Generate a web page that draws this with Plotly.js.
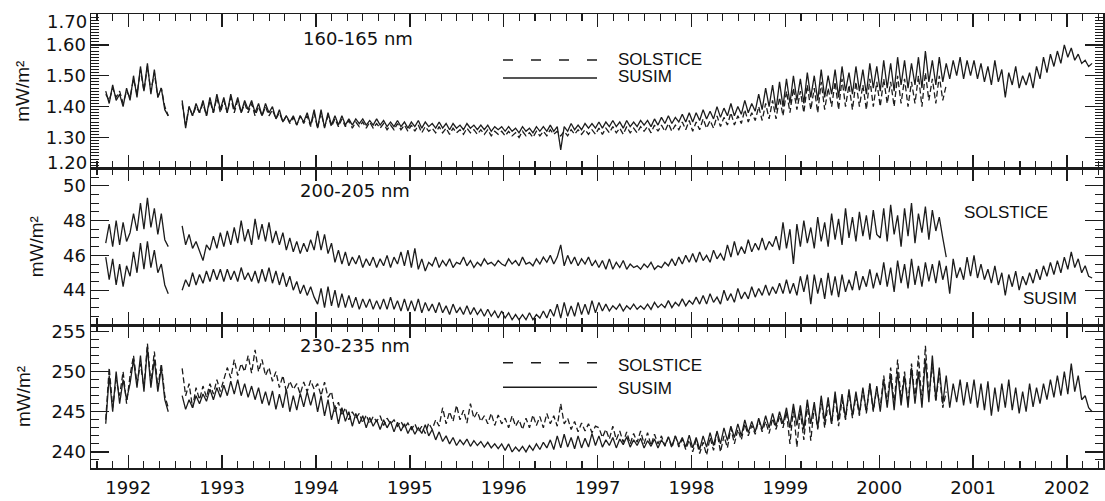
<!DOCTYPE html>
<html>
<head>
<meta charset="utf-8">
<script src="https://cdn.plot.ly/plotly-3.0.1.min.js"></script>
<style>html,body{margin:0;padding:0;background:#fff;}#chart{width:1105px;height:501px;}</style>
</head>
<body>
<div id="chart"></div>
<script>
// Time grid: samples every ~half solar rotation (0.037 yr) starting late 1991
const T0 = 1991.76;
const STEP = 0.037;

// Tick labels
const yearTicks = [1992, 1993, 1994, 1995, 1996, 1997, 1998, 1999, 2000, 2001, 2002];
const p1Ticks = [1.30, 1.40, 1.50, 1.60];
const p1EdgeTicks = [1.70, 1.20];
const p2Ticks = [44, 46, 48, 50];
const p3Ticks = [240, 245, 250, 255];
const panelLabels = ['160-165 nm', '200-205 nm', '230-235 nm'];
const seriesNames = ['SOLSTICE', 'SUSIM'];

// 160-165 nm (mW/m^2)
const p1su = [1.45,1.41,1.47,1.42,1.44,1.40,1.46,
1.42,1.50,1.43,1.53,1.45,1.54,1.44,1.52,1.43,1.46,1.39,1.37,
null,null,null,
1.42,1.33,1.40,1.37,1.41,1.38,1.42,1.37,1.43,1.38,1.44,1.39,
1.43,1.38,1.44,1.39,1.43,1.38,1.42,1.39,1.42,1.38,1.41,1.37,1.41,1.38,1.40,1.36,1.39,1.35,1.37,1.35,1.37,1.34,1.37,1.35,1.38,1.34,1.39,
1.33,1.39,1.33,1.38,1.34,1.37,1.34,1.37,1.34,1.36,1.34,1.36,1.345,1.36,1.34,1.355,1.34,1.36,1.34,1.355,1.335,1.35,1.335,1.355,1.335,1.35,1.33,
1.35,1.335,1.355,1.33,1.35,1.335,1.345,1.33,1.35,1.33,1.345,1.325,1.345,1.33,1.34,1.325,1.345,1.33,1.34,1.325,1.34,1.325,1.34,1.32,1.335,1.325,1.335,
1.32,1.335,1.32,1.33,1.315,1.335,1.32,1.33,1.315,1.335,1.32,1.335,1.32,1.34,1.32,1.335,1.26,1.335,1.32,1.345,1.325,1.34,1.325,1.345,1.33,1.345,1.33,
1.35,1.33,1.35,1.335,1.355,1.335,1.35,1.33,1.355,1.335,1.35,1.335,1.355,1.34,1.355,1.335,1.36,1.34,1.365,1.345,1.37,1.345,1.365,1.35,1.375,1.35,1.38,
1.35,1.38,1.355,1.39,1.36,1.385,1.36,1.40,1.365,1.395,1.37,1.41,1.37,1.40,1.375,1.42,1.38,1.41,1.385,1.44,1.39,1.46,1.40,1.47,1.39,1.48,1.40,
1.49,1.41,1.50,1.42,1.49,1.41,1.51,1.43,1.50,1.42,1.52,1.43,1.50,1.44,1.52,1.43,1.53,1.45,1.51,1.44,1.53,1.45,1.52,1.44,1.54,1.46,1.53,
1.45,1.55,1.46,1.54,1.45,1.56,1.47,1.55,1.46,1.54,1.47,1.56,1.46,1.58,1.48,1.55,1.47,1.56,1.48,1.54,1.49,1.55,1.50,1.56,1.49,1.55,1.50,
1.55,1.49,1.54,1.48,1.53,1.47,1.55,1.48,1.52,1.43,1.51,1.47,1.53,1.46,1.50,1.47,1.51,1.46,1.53,1.49,1.56,1.51,1.57,1.53,1.58,1.54,1.60,
1.56,1.59,1.55,1.57,1.54,1.55,1.53,1.54];

const p1so = [1.44,1.42,1.46,1.43,1.45,1.41,1.45,
1.43,1.49,1.44,1.52,1.45,1.53,1.45,1.51,1.43,1.46,1.40,1.37,
null,null,null,
1.41,1.34,1.40,1.37,1.40,1.38,1.41,1.37,1.42,1.38,1.43,1.38,
1.42,1.38,1.43,1.38,1.42,1.38,1.41,1.38,1.41,1.37,1.40,1.37,1.40,1.37,1.39,1.36,1.38,1.35,1.37,1.345,1.365,1.34,1.37,1.345,1.37,1.335,1.38,
1.33,1.38,1.335,1.37,1.335,1.36,1.335,1.36,1.335,1.355,1.33,1.35,1.335,1.35,1.33,1.35,1.33,1.345,1.33,1.345,1.325,1.34,1.325,1.345,1.325,1.34,1.32,
1.34,1.32,1.34,1.315,1.335,1.32,1.33,1.315,1.335,1.315,1.33,1.31,1.33,1.315,1.325,1.31,1.33,1.315,1.325,1.31,1.325,1.31,1.325,1.305,1.32,1.31,1.32,
1.305,1.32,1.305,1.315,1.30,1.32,1.305,1.315,1.30,1.32,1.305,1.32,1.305,1.325,1.31,1.32,1.305,1.32,1.305,1.325,1.31,1.325,1.31,1.325,1.31,1.325,1.31,
1.33,1.31,1.33,1.315,1.335,1.315,1.33,1.31,1.335,1.315,1.33,1.315,1.335,1.32,1.335,1.315,1.34,1.32,1.34,1.32,1.345,1.32,1.34,1.325,1.35,1.325,1.355,
1.32,1.35,1.325,1.36,1.33,1.355,1.33,1.37,1.335,1.365,1.34,1.38,1.34,1.37,1.345,1.39,1.35,1.38,1.355,1.40,1.355,1.41,1.36,1.42,1.36,1.43,1.37,
1.45,1.38,1.46,1.39,1.45,1.38,1.47,1.39,1.46,1.38,1.48,1.39,1.46,1.40,1.48,1.39,1.49,1.40,1.47,1.39,1.48,1.40,1.47,1.39,1.49,1.40,1.48,
1.40,1.49,1.41,1.48,1.40,1.50,1.41,1.49,1.40,1.48,1.41,1.50,1.40,1.51,1.42,1.49,1.41,1.50,1.42,1.47];

// 200-205 nm (mW/m^2)
const p2su = [45.9,44.6,45.8,44.3,45.5,44.2,45.4,
44.8,46.2,45.0,46.7,45.2,46.8,45.3,46.3,45.0,45.5,44.3,43.8,
null,null,null,
44.0,44.6,44.2,45.0,44.3,44.9,44.4,45.1,44.5,45.2,44.6,45.2,
44.5,45.2,44.6,45.1,44.5,45.3,44.6,45.0,44.5,45.1,44.4,45.2,44.5,45.3,44.4,45.1,44.3,45.0,44.2,44.8,44.0,44.5,43.8,44.3,43.7,44.2,43.6,
43.2,44.1,43.0,44.2,43.1,44.0,43.0,43.8,43.0,43.7,43.0,43.6,42.9,43.5,43.0,43.5,42.9,43.4,42.9,43.5,42.9,43.6,42.9,43.4,42.8,43.5,42.8,
43.4,42.8,43.5,42.7,43.3,42.8,43.2,42.7,43.3,42.7,43.1,42.6,43.2,42.7,43.0,42.6,43.1,42.6,43.0,42.6,42.9,42.5,42.9,42.5,42.8,42.4,42.8,
42.4,42.7,42.3,42.6,42.3,42.6,42.3,42.7,42.3,42.6,42.4,42.8,42.4,42.9,42.5,43.2,42.4,43.3,42.5,43.1,42.5,43.3,42.6,43.2,42.6,43.4,42.7,
43.3,42.8,43.2,42.8,43.1,42.9,43.2,42.8,43.1,42.9,43.2,42.9,43.1,42.9,43.2,42.9,43.3,43.0,43.2,43.0,43.4,43.0,43.3,43.1,43.5,43.1,43.4,
43.2,43.6,43.2,43.7,43.2,43.8,43.3,43.6,43.2,44.0,43.4,43.8,43.3,44.1,43.5,43.9,43.5,44.2,43.6,44.1,43.7,44.3,43.7,44.2,43.8,44.4,43.8,
44.6,43.8,44.4,43.7,44.8,43.9,44.9,43.2,44.9,43.8,44.7,43.5,45.0,43.7,44.8,43.6,44.9,43.9,44.6,44.0,45.1,44.0,44.8,44.2,45.2,44.1,45.0,
44.3,45.6,44.2,45.3,43.9,45.7,44.4,45.5,44.1,45.8,44.3,45.4,44.2,45.6,44.5,45.5,44.4,45.7,44.6,45.4,43.8,45.8,44.7,45.3,44.6,45.9,44.8,
46.0,44.7,45.5,44.6,45.2,44.4,45.4,44.3,45.0,43.7,44.9,44.2,45.1,44.0,44.8,44.3,45.0,44.4,45.2,44.6,45.4,44.8,45.6,44.9,45.7,45.0,45.9,
45.2,46.2,45.3,45.8,45.0,45.4,44.8,44.7];

const p2so = [46.7,47.8,46.5,48.0,46.6,47.9,46.8,
47.3,48.4,47.4,49.0,47.5,49.3,47.6,48.7,47.2,48.4,46.9,46.5,
null,null,null,
47.7,46.6,47.2,46.4,46.8,46.2,45.7,46.6,46.3,47.1,46.4,47.3,
46.5,47.4,46.6,47.6,46.7,48.0,46.8,47.5,46.6,48.1,46.9,47.8,46.8,47.9,46.7,47.4,46.6,47.3,46.3,47.0,46.2,46.8,46.1,46.7,46.2,46.9,46.3,
47.4,46.3,47.2,46.1,46.7,45.6,46.3,45.5,46.2,45.4,45.9,45.5,46.0,45.3,45.8,45.4,45.9,45.3,45.8,45.4,46.0,45.3,45.9,45.5,46.2,45.4,46.3,
45.3,46.4,45.2,45.8,45.1,45.6,45.4,45.9,45.3,45.7,45.4,45.8,45.3,45.6,45.5,45.9,45.4,45.7,45.3,45.6,45.4,45.8,45.5,45.6,45.4,45.7,45.5,
45.4,45.8,45.5,45.7,45.4,45.9,45.5,45.6,45.4,45.8,45.5,45.9,45.6,46.0,45.5,45.9,46.6,45.4,46.0,45.5,45.9,45.4,45.8,45.5,45.9,45.4,45.7,
45.3,45.7,45.2,45.8,45.2,45.6,45.3,45.7,45.2,45.5,45.3,45.4,45.2,45.5,45.3,45.6,45.2,45.4,45.3,45.6,45.4,45.8,45.4,45.9,45.5,46.0,45.6,
46.1,45.6,46.2,45.7,46.0,45.6,46.3,45.8,46.1,45.7,46.6,45.9,46.8,46.0,46.5,46.1,46.9,46.2,46.7,46.3,47.0,46.3,46.8,46.5,47.1,46.3,47.9,
46.4,47.5,45.5,47.8,46.5,48.0,46.7,47.6,46.4,48.2,46.8,47.9,46.5,48.4,46.9,48.1,46.6,48.7,47.0,48.2,46.8,48.5,47.1,48.3,46.9,48.6,47.2,
47.0,48.7,46.8,48.9,47.2,48.3,46.5,48.7,47.1,49.0,46.7,48.4,47.3,48.8,46.9,48.6,47.4,48.2,47.0,45.9];

// 230-235 nm (mW/m^2)
const p3su = [243.5,249.5,245.0,250.0,246.0,249.0,246.5,
248.5,251.5,248.0,252.0,247.5,253.0,248.0,251.5,247.5,250.5,246.5,245.0,
null,null,null,
247.0,245.3,246.5,245.5,247.0,246.0,247.2,246.3,247.8,246.5,248.0,246.8,
248.3,247.0,248.8,247.2,249.0,247.0,248.5,246.8,248.2,246.5,248.0,246.0,247.5,245.8,247.6,245.3,247.2,245.5,247.8,245.0,247.0,245.2,247.3,245.6,247.5,245.8,247.4,
245.0,247.0,244.5,246.5,244.0,245.8,243.5,245.5,243.8,245.0,243.2,244.8,243.5,244.5,243.0,244.3,243.2,244.0,242.8,244.0,243.0,243.8,242.5,243.7,242.6,243.5,242.3,
243.2,242.2,243.0,242.3,243.4,242.0,242.8,241.5,242.5,241.3,242.0,241.0,241.8,240.8,241.5,240.9,241.6,240.7,241.4,240.8,241.3,240.6,241.2,240.5,241.0,240.4,241.0,
240.2,241.0,240.0,240.6,240.1,240.7,240.0,240.8,240.2,241.0,240.3,241.2,240.5,241.5,240.3,242.0,240.5,242.2,240.6,241.8,240.4,242.0,240.5,241.7,240.6,242.3,240.8,
242.0,240.6,241.5,240.8,241.8,240.5,241.6,240.9,241.9,240.6,241.5,240.8,241.7,240.5,241.4,240.7,241.6,240.5,241.5,240.8,241.9,240.7,242.0,240.9,241.8,240.6,242.1,
240.5,241.8,240.3,242.0,240.6,242.4,240.8,242.6,241.0,243.0,241.4,243.2,241.8,243.5,242.0,244.0,242.4,243.8,242.5,244.2,242.8,244.5,243.0,244.8,243.2,245.0,243.5,
245.5,243.0,246.0,243.3,245.8,242.8,246.5,243.5,246.2,243.0,247.0,243.8,246.8,243.5,247.5,244.0,247.2,244.2,247.8,244.5,247.5,244.8,248.0,245.0,248.5,245.2,248.2,
245.0,249.0,245.5,249.5,245.2,250.0,245.8,249.5,245.5,250.5,246.0,250.0,245.5,251.5,246.2,252.0,246.5,250.5,246.0,249.5,245.5,248.5,246.2,249.0,245.8,248.7,246.0,
249.0,245.5,248.5,245.2,248.8,244.5,248.0,245.0,248.5,245.5,249.0,245.2,248.0,244.8,247.5,245.0,248.5,245.6,248.0,246.0,248.5,246.5,249.0,246.8,249.5,247.0,250.0,
247.2,251.0,247.5,249.5,246.5,247.0,245.5,245.0];

const p3so = [244.0,250.5,245.5,249.0,247.0,250.0,246.0,
249.5,252.0,248.5,251.0,248.0,253.5,248.5,252.5,248.0,251.0,247.0,245.5,
null,null,null,
250.4,247.0,248.5,245.5,248.0,246.5,248.2,246.8,248.5,247.2,249.0,247.5,
249.0,250.5,249.2,251.5,249.5,251.0,250.0,252.0,249.8,252.7,250.0,251.5,249.5,250.5,248.8,250.0,248.0,249.5,247.5,248.8,247.8,248.5,247.2,248.7,247.5,248.9,247.8,
248.5,247.0,248.7,246.8,247.5,245.0,246.2,244.5,245.5,244.0,245.0,244.2,244.8,243.6,244.6,243.5,244.4,243.8,244.5,243.3,244.2,243.5,244.0,243.2,243.8,243.0,243.6,
242.8,243.5,242.5,243.2,242.3,243.6,242.8,244.0,243.2,245.5,243.5,245.0,243.8,245.8,244.0,245.2,243.6,246.0,244.2,245.0,243.8,244.5,243.5,244.8,243.3,244.6,243.5,
244.2,243.0,244.5,243.2,244.0,242.8,244.2,243.0,244.6,243.3,244.4,243.0,244.8,243.5,244.5,243.2,246.0,243.5,244.2,242.8,243.8,242.5,243.6,242.6,243.5,242.4,243.2,
243.0,241.8,242.8,241.6,243.2,241.5,242.6,241.2,242.5,241.0,242.3,241.2,242.6,241.0,242.4,240.8,242.2,241.0,242.0,240.7,241.8,240.5,242.0,240.6,241.6,240.3,241.5,
240.0,241.5,239.8,241.2,239.6,241.8,240.2,242.5,240.0,242.0,240.5,243.0,241.0,242.8,241.5,243.5,242.0,243.3,242.2,244.0,242.5,243.8,242.3,244.2,242.8,244.5,243.0,
245.0,241.0,245.5,240.6,245.2,241.5,246.0,241.4,245.8,242.8,246.5,243.0,246.0,243.5,247.0,243.2,246.5,244.0,247.5,244.2,247.0,244.5,247.8,244.8,248.5,245.0,248.0,
245.5,249.5,246.0,250.5,245.8,251.5,246.5,250.0,246.0,251.0,246.5,252.0,246.0,253.2,246.8,251.0,246.2,250.0,245.5,247.5];

// ---------- build ----------
const tOf = arr => arr.map((_, i) => T0 + i * STEP);
const INK = '#1c1c1c';
const lineSolid = {color: INK, width: 1.3};
const lineDash = {color: INK, width: 1.3, dash: '6px,3px'};

function tr(y, xa, ya, line, name) {
  return {x: tOf(y), y: y, xaxis: xa, yaxis: ya, type: 'scatter', mode: 'lines',
          line: line, name: name, showlegend: false, connectgaps: false, hoverinfo: 'skip'};
}

const data = [
  tr(p1so, 'x', 'y', lineDash, seriesNames[0]),
  tr(p1su, 'x', 'y', lineSolid, seriesNames[1]),
  tr(p2so, 'x2', 'y2', lineSolid, seriesNames[0]),
  tr(p2su, 'x2', 'y2', lineSolid, seriesNames[1]),
  tr(p3so, 'x3', 'y3', lineDash, seriesNames[0]),
  tr(p3su, 'x3', 'y3', lineSolid, seriesNames[1])
];

const TICKFONT = {family: 'DejaVu Sans', size: 18, color: '#111'};
const LABFONT = {family: 'Liberation Sans, Arial, sans-serif', size: 17, color: '#111'};
const TITLEFONT = {family: 'Liberation Sans, Arial, sans-serif', size: 19, color: '#111'};

function xAxis(anchor, showLabels) {
  return {
    anchor: anchor, range: [1991.603, 2002.384], tickmode: 'array', tickvals: yearTicks,
    ticktext: yearTicks.map(String), showticklabels: showLabels, tickfont: TICKFONT,
    ticks: 'inside', ticklen: 13, tickwidth: 1.3, tickcolor: INK,
    minor: {dtick: 1/6, tick0: 0, ticks: 'inside', ticklen: 7, tickwidth: 1.1, tickcolor: INK},
    mirror: 'allticks', showline: true, linewidth: 1.5, linecolor: INK,
    showgrid: false, zeroline: false, ticklabelstandoff: 3
  };
}
function yAxis(domain, range, ticks, fmt, minorDtick, standoff) {
  return {
    domain: domain, range: range, tickmode: 'array', tickvals: ticks,
    ticktext: ticks.map(v => fmt(v)), tickfont: TICKFONT,
    ticks: 'inside', ticklen: 18, tickwidth: 1.3, tickcolor: INK,
    minor: {dtick: minorDtick, tick0: 0, ticks: 'inside', ticklen: 8, tickwidth: 1, tickcolor: INK},
    mirror: 'allticks', showline: true, linewidth: 1.5, linecolor: INK,
    showgrid: false, zeroline: false,
    title: {text: 'mW/m²', font: TITLEFONT, standoff: standoff}
  };
}

// pixel -> paper helpers for layout placement
const PL = 91, PW = 1012, PB = 468, PH = 454;
const px = v => (v - PL) / PW;
const py = v => (PB - v) / PH;

const ann = (text, x, y, xanchor, font) => ({text: text, x: x, y: y, xref: 'paper', yref: 'paper',
  xanchor: xanchor, yanchor: 'middle', showarrow: false, font: font});
const PANELFONT = {family: 'DejaVu Sans', size: 18, color: '#111'};

const layout = {
  width: 1105, height: 501,
  margin: {l: PL, r: 2, t: 14, b: 33},
  paper_bgcolor: '#fff', plot_bgcolor: '#fff',
  showlegend: false,
  xaxis: xAxis('y', false),
  xaxis2: Object.assign(xAxis('y2', false), {matches: 'x'}),
  xaxis3: Object.assign(xAxis('y3', true), {matches: 'x'}),
  yaxis: yAxis([py(168.3), 1], [1.2, 1.7], p1Ticks, v => v.toFixed(2), 0.01, 11),
  yaxis2: yAxis([py(325), py(168.3)], [42, 51], p2Ticks, v => String(v), 0.5, 14),
  yaxis3: yAxis([0, py(325)], [238, 255.8], p3Ticks, v => String(v), 1, 16),
  annotations: [
    ann(p1EdgeTicks[0].toFixed(2), px(89), py(21.5), 'right', TICKFONT),
    ann(p1EdgeTicks[1].toFixed(2), px(89), py(162), 'right', TICKFONT),
    ann(panelLabels[0], px(301), py(39), 'left', PANELFONT),
    ann(panelLabels[1], px(298), py(190), 'left', PANELFONT),
    ann(panelLabels[2], px(298), py(345), 'left', PANELFONT),
    ann(seriesNames[0], px(616), py(59), 'left', LABFONT),
    ann(seriesNames[1], px(616), py(76.5), 'left', LABFONT),
    ann(seriesNames[0], px(962), py(213), 'left', LABFONT),
    ann(seriesNames[1], px(1021), py(298), 'left', LABFONT),
    ann(seriesNames[0], px(616), py(365), 'left', LABFONT),
    ann(seriesNames[1], px(616), py(388), 'left', LABFONT)
  ],
  shapes: [
    {type: 'line', xref: 'paper', yref: 'paper', x0: px(503), x1: px(597), y0: py(60), y1: py(60), line: {color: INK, width: 1.4, dash: '10px,18px'}},
    {type: 'line', xref: 'paper', yref: 'paper', x0: px(503), x1: px(597), y0: py(78), y1: py(78), line: {color: INK, width: 1.4}},
    {type: 'line', xref: 'paper', yref: 'paper', x0: px(503), x1: px(597), y0: py(362.7), y1: py(362.7), line: {color: INK, width: 1.4, dash: '10px,18px'}},
    {type: 'line', xref: 'paper', yref: 'paper', x0: px(503), x1: px(597), y0: py(387.3), y1: py(387.3), line: {color: INK, width: 1.4}}
  ]
};

Plotly.newPlot('chart', data, layout, {staticPlot: true, displayModeBar: false});
</script>
</body>
</html>
